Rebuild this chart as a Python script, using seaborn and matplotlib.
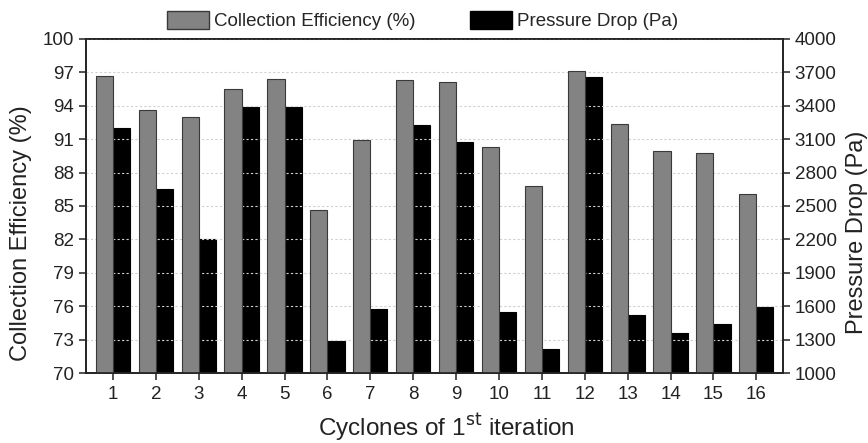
import numpy as np
import pandas as pd
import matplotlib
matplotlib.use('Agg')
import matplotlib.pyplot as plt
import seaborn as sns
from matplotlib.patches import Patch

# values
cyclones = list(range(1, 17))
efficiency = [96.7, 93.6, 93.0, 95.5, 96.4, 84.6, 90.9, 96.3,
              96.1, 90.3, 86.8, 97.1, 92.4, 89.9, 89.8, 86.1]
pressure = [3200, 2650, 2200, 3390, 3385, 1290, 1575, 3225,
            3075, 1550, 1220, 3660, 1525, 1355, 1440, 1595]
eff_ticks = [70, 73, 76, 79, 82, 85, 88, 91, 94, 97, 100]
dp_ticks = [1000, 1300, 1600, 1900, 2200, 2500, 2800, 3100, 3400, 3700, 4000]

df = pd.DataFrame({'Cyclone': cyclones, 'Efficiency': efficiency, 'Pressure': pressure})

sns.set_style('ticks')
plt.rcParams['font.family'] = ['Liberation Sans', 'DejaVu Sans']

fig = plt.figure(figsize=(8.68, 4.43), dpi=100)
ax = fig.add_axes([0.099, 0.158, 0.803, 0.754])
ax2 = ax.twinx()

gray = '#838383'
sns.barplot(x=df['Cyclone'] - 0.2, y=df['Efficiency'], native_scale=True, width=0.4,
            color=gray, edgecolor='#3a3a3a', linewidth=0.8, saturation=1, ax=ax)
sns.barplot(x=df['Cyclone'] + 0.2, y=df['Pressure'], native_scale=True, width=0.4,
            color='black', edgecolor='black', linewidth=0.8, saturation=1, ax=ax2)

ax.set_ylim(70, 100)
ax2.set_ylim(1000, 4000)
ax.set_yticks(eff_ticks)
ax2.set_yticks(dp_ticks)
ax.set_xlim(0.37, 16.62)
ax.set_xticks(cyclones)
ax.set_xticklabels([str(c) for c in cyclones])

ax.grid(axis='y', color='#d0d0d0', linestyle=(0, (2, 2)), linewidth=0.8)
ax.set_axisbelow(True)
ax.set_zorder(ax2.get_zorder() + 1)
ax.patch.set_visible(False)

for a in (ax, ax2):
    for s in a.spines.values():
        s.set_visible(True)
        s.set_color('#222222')
        s.set_linewidth(1.2)
    a.tick_params(direction='out', length=5, width=1.1, labelsize=13.5, colors='#222222')
ax.tick_params(axis='x', pad=4)

ax.set_xlabel('Cyclones of 1$^{\\mathrm{st}}$ iteration', fontsize=17.5, color='#222222')
ax.xaxis.set_label_coords(0.517, -0.115)
ax.xaxis.label.set_verticalalignment('top')
ax.set_ylabel('Collection Efficiency (%)', fontsize=17, color='#222222')
ax.yaxis.set_label_coords(-0.077, 0.42)
ax2.set_ylabel('Pressure Drop (Pa)', fontsize=17, color='#222222')
ax2.yaxis.set_label_coords(1.090, 0.42)

handles = [Patch(facecolor=gray, edgecolor='#3a3a3a', label='Collection Efficiency (%)'),
           Patch(facecolor='black', edgecolor='black', label='Pressure Drop (Pa)')]
fig.legend(handles=handles, loc='center', bbox_to_anchor=(0.487, 0.953), ncol=2,
           frameon=False, fontsize=13.5, handlelength=2.24, handleheight=1.07,
           handletextpad=0.27, columnspacing=2.9)

fig.savefig('out.png', dpi=100)
